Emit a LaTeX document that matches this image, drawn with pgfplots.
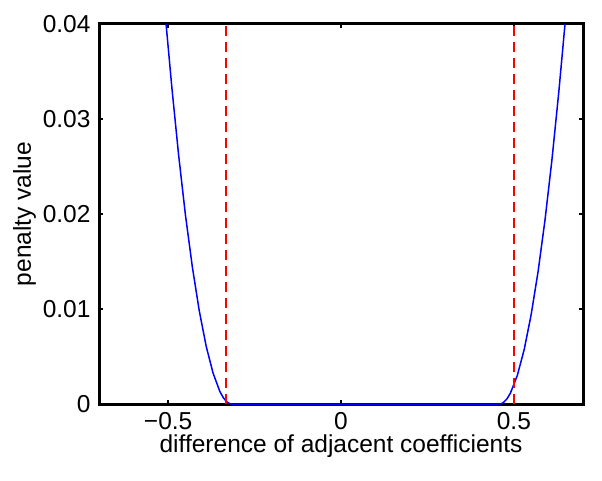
\documentclass[border=0pt]{standalone}
\usepackage{pgfplots}
\pgfplotsset{compat=1.18}
\usepackage{fontspec}
\setmainfont{Liberation Sans}
\begin{document}
\fontsize{12.25}{14.7}\selectfont
\begin{tikzpicture}
\begin{axis}[
  scale only axis,
  width=242pt, height=190pt,
  xmin=-0.7, xmax=0.7, ymin=0, ymax=0.04,
  scaled y ticks=false,
  xtick={-0.5,0,0.5}, xticklabels={−0.5,0,0.5},
  ytick={0,0.01,0.02,0.03,0.04}, yticklabels={0,0.01,0.02,0.03,0.04},
  /pgf/number format/assume math mode=true,
  tick align=inside, major tick length=2pt,
  tick style={black, line width=0.75pt},
  axis line style={line width=1.5pt},
  xlabel={difference of adjacent coefficients},
  ylabel={penalty value},
  xlabel style={yshift=6pt},
  ylabel style={yshift=-5pt},
  every tick label/.append style={font=\fontsize{12.25}{14.7}\selectfont},
  label style={font=\fontsize{12.25}{14.7}\selectfont},
  clip=true,
]
\addplot[blue, line width=0.75pt] coordinates {
  (-0.506,0.0400) (-0.49,0.0336) (-0.47,0.0263) (-0.45,0.0199)
  (-0.43,0.01443) (-0.41,0.00981) (-0.39,0.00608) (-0.37,0.00324)
  (-0.35,0.00128) (-0.34,0.00064) (-0.33,0.00022) (-0.322,0.00004) (-0.316,0)
  (0.458,0) (0.464,0.00004) (0.47,0.00016) (0.48,0.00054) (0.49,0.00114) (0.51,0.00300)
  (0.53,0.00575) (0.55,0.00940) (0.57,0.01392) (0.59,0.01934)
  (0.61,0.02565) (0.63,0.03284) (0.648,0.0400)
};
\addplot[red, line width=1pt, dash pattern=on 5pt off 3pt] coordinates {(-0.3333,0) (-0.3333,0.04)};
\addplot[red, line width=1pt, dash pattern=on 5pt off 3pt] coordinates {(0.5,0) (0.5,0.04)};
\end{axis}
\path (current axis.south west) ++(-49.5pt,-38pt) coordinate (bl);
\path (current axis.north east) ++(9.5pt,12pt) coordinate (tr);
\path (bl) rectangle (tr);
\end{tikzpicture}
\end{document}
